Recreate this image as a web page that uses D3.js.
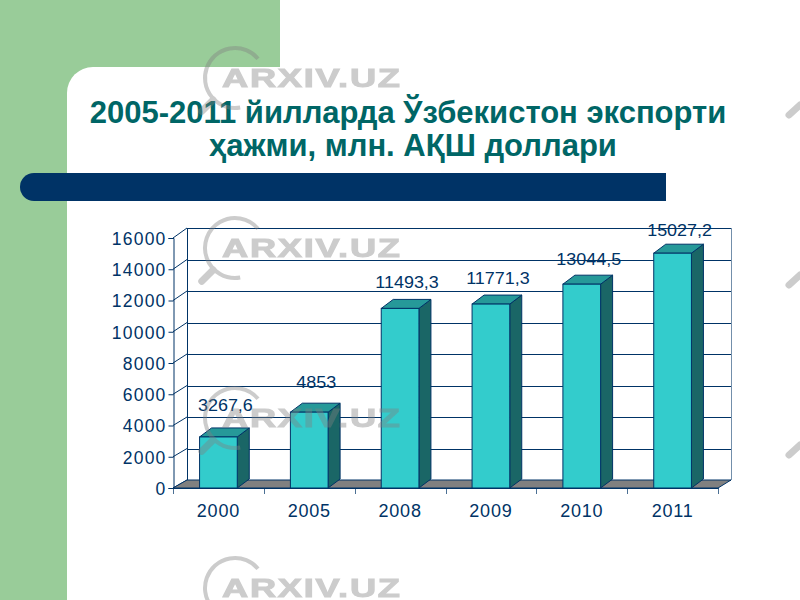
<!DOCTYPE html>
<html>
<head>
<meta charset="utf-8">
<script src="https://cdn.jsdelivr.net/npm/d3@7"></script>
<style>
  html, body { margin: 0; padding: 0; background: #ffffff; }
  svg { display: block; font-family: "Liberation Sans", Arial, sans-serif; }
</style>
</head>
<body>
<svg id="chart" width="800" height="600"></svg>
<script>
// ---- data ----
const titleLines = ["2005-2011 йилларда Ўзбекистон экспорти", "ҳажми, млн. АҚШ доллари"];
const years = ["2000", "2005", "2008", "2009", "2010", "2011"];
const exportValues = [3267.6, 4853, 11493.3, 11771.3, 13044.5, 15027.2];
const yTicks = [0, 2000, 4000, 6000, 8000, 10000, 12000, 14000, 16000];
const watermarkText = "ARXIV.UZ";

// ---- setup ----
const svg = d3.select("#chart");
const navy = "#003366";

// background: green L-shape with white rounded panel
svg.append("rect").attr("x", 0).attr("y", 0).attr("width", 800).attr("height", 600).attr("fill", "#ffffff");
svg.append("rect").attr("x", 0).attr("y", 0).attr("width", 280).attr("height", 100).attr("fill", "#99cc99");
svg.append("rect").attr("x", 0).attr("y", 0).attr("width", 100).attr("height", 600).attr("fill", "#99cc99");
svg.append("rect").attr("x", 67).attr("y", 67).attr("width", 800).attr("height", 600).attr("rx", 26).attr("fill", "#ffffff");

// title
const title = svg.append("text")
  .attr("text-anchor", "middle")
  .attr("fill", "#006666")
  .attr("font-weight", "bold")
  .attr("font-size", 31);
title.append("tspan").attr("x", 408).attr("y", 123).text(titleLines[0]);
title.append("tspan").attr("x", 413).attr("y", 156).text(titleLines[1]);

// dark band with rounded left end
svg.append("path")
  .attr("d", "M34,173 L666,173 L666,201 L34,201 A14,14 0 0 1 34,173 Z")
  .attr("fill", navy);

// ---- chart scales ----
const x = d3.scaleBand().domain(years).range([173, 718]).padding(0);
const yFront = d3.scaleLinear().domain([0, 16000]).range([488, 238]);
const yBack = d3.scaleLinear().domain([0, 16000]).range([480, 228]);
const yLabel = d3.scaleLinear().domain([0, 16000]).range([460, 221]);
const wallX0 = 187, wallX1 = 731;
const depthX = 12, depthY = -9;
const fmt = d3.formatLocale({ decimal: ",", thousands: "", grouping: [3], currency: ["", ""] }).format("~f");

const chart = svg.append("g");

// back wall gridlines
chart.append("g").selectAll("line").data(yTicks).join("line")
  .attr("x1", wallX0).attr("x2", wallX1)
  .attr("y1", d => Math.round(yBack(d)) + 0.5).attr("y2", d => Math.round(yBack(d)) + 0.5)
  .attr("stroke", navy).attr("stroke-width", 1);
// back wall vertical edges
chart.append("line").attr("x1", wallX0 + 0.5).attr("x2", wallX0 + 0.5)
  .attr("y1", yBack(16000)).attr("y2", yBack(0)).attr("stroke", navy);
chart.append("line").attr("x1", wallX1 + 0.5).attr("x2", wallX1 + 0.5)
  .attr("y1", yBack(16000)).attr("y2", yBack(0)).attr("stroke", navy).attr("stroke-opacity", 0.55);
// diagonal connectors from front axis to back wall
chart.append("g").selectAll("line").data(yTicks).join("line")
  .attr("x1", 173).attr("y1", d => yFront(d))
  .attr("x2", wallX0).attr("y2", d => yBack(d))
  .attr("stroke", navy);

// floor
const fx0 = x.range()[0], fx1 = x.range()[1];
chart.append("path")
  .attr("d", `M${fx0},${yFront(0)} L${wallX0},${yBack(0)} L${wallX1},${yBack(0)} L${fx1},${yFront(0)} Z`)
  .attr("fill", "#808080").attr("stroke", navy).attr("stroke-width", 1);

// y axis (front)
const yAxis = chart.append("g").attr("transform", "translate(173.5,0)")
  .call(d3.axisLeft(yFront).tickValues(yTicks).tickSize(5).tickPadding(2).tickFormat(d3.format("d")));
yAxis.select(".domain").attr("stroke", navy);
yAxis.selectAll(".tick line").attr("stroke", navy);
yAxis.selectAll(".tick text")
  .attr("fill", navy).attr("font-size", 17.5).attr("letter-spacing", "1.2px")
  .attr("font-family", "'Liberation Sans', Arial, sans-serif").attr("dy", "0.36em");

// x axis (front)
const xAxis = chart.append("g").attr("transform", `translate(0,${yFront(0)})`)
  .call(d3.axisBottom(x).tickSize(0).tickPadding(16));
xAxis.select(".domain").attr("stroke", navy);
xAxis.selectAll(".tick text")
  .attr("fill", navy).attr("font-size", 18).attr("letter-spacing", "0.8px")
  .attr("font-family", "'Liberation Sans', Arial, sans-serif");
// category boundary ticks
const bounds = years.map(d => x(d)).concat([x(years[years.length - 1]) + x.bandwidth()]);
chart.append("g").selectAll("line").data(bounds).join("line")
  .attr("x1", d => Math.round(d) + 0.5).attr("x2", d => Math.round(d) + 0.5)
  .attr("y1", yFront(0)).attr("y2", yFront(0) + 6)
  .attr("stroke", navy).attr("stroke-opacity", 0.7);

// bars (3D)
const barW = x.bandwidth() * 0.415;
const barData = years.map((y, i) => ({ year: y, value: exportValues[i] }));
const bars = chart.append("g").selectAll("g").data(barData).join("g");
bars.each(function (d) {
  const g = d3.select(this);
  const x0 = x(d.year) + (x.bandwidth() - barW) / 2;
  const x1 = x0 + barW;
  const yt = yFront(d.value), yb = yFront(0);
  g.append("path")
    .attr("d", `M${x1},${yb} L${x1},${yt} L${x1 + depthX},${yt + depthY} L${x1 + depthX},${yb + depthY} Z`)
    .attr("fill", "#1a6666").attr("stroke", navy).attr("stroke-width", 1).attr("stroke-linejoin", "round");
  g.append("path")
    .attr("d", `M${x0},${yt} L${x0 + depthX},${yt + depthY} L${x1 + depthX},${yt + depthY} L${x1},${yt} Z`)
    .attr("fill", "#269999").attr("stroke", navy).attr("stroke-width", 1).attr("stroke-linejoin", "round");
  g.append("rect")
    .attr("x", x0).attr("y", yt).attr("width", barW).attr("height", yb - yt)
    .attr("fill", "#33cccc").attr("stroke", navy).attr("stroke-width", 1);
});

// value labels (slightly widened glyphs, as in the reference)
const vlabels = chart.append("g").selectAll("text").data(barData).join("text")
  .attr("x", d => x(d.year) + x.bandwidth() / 2 + depthX / 2 + 1)
  .attr("y", d => yLabel(d.value))
  .attr("text-anchor", "middle")
  .attr("fill", navy).attr("font-size", 16)
  .text(d => fmt(d.value));
vlabels.each(function () {
  const w = this.getComputedTextLength();
  d3.select(this).attr("textLength", w * 1.12).attr("lengthAdjust", "spacingAndGlyphs");
});

// watermarks
const wmRows = [87, 257, 427, 597];
const wm = svg.append("g").attr("opacity", 0.4).attr("pointer-events", "none");
wmRows.forEach(by => {
  const cx = 235, cy = by - 9, r = 30;
  const a0 = -40 * Math.PI / 180, a1 = 80 * Math.PI / 180;
  wm.append("path")
    .attr("d", `M${cx + r * Math.cos(a0)},${cy + r * Math.sin(a0)} A${r},${r} 0 1 0 ${cx + r * Math.cos(a1)},${cy + r * Math.sin(a1)}`)
    .attr("fill", "none").attr("stroke", "#808080").attr("stroke-width", 4);
  const ah = 135 * Math.PI / 180;
  wm.append("line")
    .attr("x1", cx + (r + 1) * Math.cos(ah)).attr("y1", cy + (r + 1) * Math.sin(ah))
    .attr("x2", cx + (r + 17) * Math.cos(ah)).attr("y2", cy + (r + 17) * Math.sin(ah))
    .attr("stroke", "#808080").attr("stroke-width", 7).attr("stroke-linecap", "round");
  wm.append("text")
    .attr("transform", `translate(222,${by}) scale(1.45,1)`)
    .attr("font-size", 25).attr("font-weight", "bold").attr("letter-spacing", "1.2px")
    .attr("fill", "#808080").attr("stroke", "#808080").attr("stroke-width", 1)
    .text(watermarkText);
  wm.append("line")
    .attr("x1", 800).attr("y1", by + 18).attr("x2", 789).attr("y2", by + 28)
    .attr("stroke", "#808080").attr("stroke-width", 7).attr("stroke-linecap", "round");
});
</script>
</body>
</html>
